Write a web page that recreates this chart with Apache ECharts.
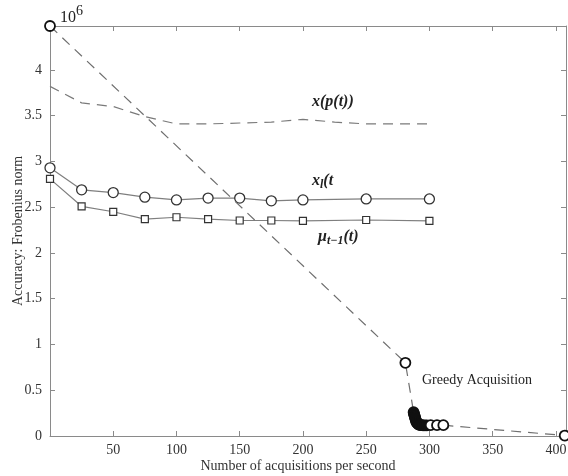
<!DOCTYPE html>
<html>
<head>
<meta charset="utf-8">
<script src="https://cdn.jsdelivr.net/npm/echarts@6/dist/echarts.min.js"></script>
<style>html,body{margin:0;padding:0;background:#fff}#c{width:568px;height:476px}</style>
</head>
<body>
<div id="c"></div>
<script>
// x(p(t)) dashed series
const xpX = [0, 25, 50, 75, 100, 125, 150, 175, 200, 225, 250, 275, 300];
const xpY = [3.82, 3.64, 3.60, 3.49, 3.41, 3.41, 3.42, 3.43, 3.46, 3.43, 3.41, 3.41, 3.41];
// x_l(t) circles
const xlX = [0, 25, 50, 75, 100, 125, 150, 175, 200, 250, 300];
const xlY = [2.93, 2.69, 2.66, 2.61, 2.58, 2.60, 2.60, 2.57, 2.58, 2.59, 2.59];
// mu_{t-1}(t) squares
const muX = [0, 25, 50, 75, 100, 125, 150, 175, 200, 250, 300];
const muY = [2.81, 2.51, 2.45, 2.37, 2.39, 2.37, 2.355, 2.355, 2.35, 2.36, 2.35];
// Greedy acquisition
const grX = [0, 281, 287.5, 287.8, 288.1, 288.4, 288.7, 289, 289.3, 289.6, 290, 290.4, 290.9, 291.5, 292.2, 293, 294, 295, 296.5, 298, 301, 306, 311, 407];
const grY = [4.48, 0.80, 0.26, 0.245, 0.23, 0.215, 0.20, 0.185, 0.17, 0.16, 0.15, 0.14, 0.132, 0.126, 0.122, 0.12, 0.118, 0.117, 0.117, 0.117, 0.118, 0.118, 0.118, 0.005];
const xTicks = [50, 100, 150, 200, 250, 300, 350, 400];
const yTicks = [0, 0.5, 1, 1.5, 2, 2.5, 3, 3.5, 4];

const zip = (a, b) => a.map((v, i) => [v, b[i]]);
const serif = '"Liberation Serif", "DejaVu Serif", serif';
const axisCol = '#8a8a8a';

// cluster points (dense region) drawn filled
const grData = zip(grX, grY).map((p, i) => {
  const dense = p[0] > 287 && p[0] < 299;
  return dense ? { value: p, itemStyle: { color: '#111', borderColor: '#111' } } : p;
});

const chart = echarts.init(document.getElementById('c'));
chart.setOption({
  animation: false,
  backgroundColor: '#fff',
  grid: { left: 50, right: 2, top: 26, bottom: 40, containLabel: false, outerBoundsMode: 'none' },
  xAxis: [{
    type: 'value', min: 0, max: 408, interval: 50,
    axisLine: { show: true, onZero: false, lineStyle: { color: axisCol, width: 1 } },
    axisTick: { show: true, inside: true, length: 5, lineStyle: { color: axisCol } },
    splitLine: { show: false },
    axisLabel: {
      color: '#333', fontFamily: serif, fontSize: 14, margin: 7,
      formatter: v => xTicks.includes(v) ? String(v) : ''
    },
    name: 'Number of acquisitions per second', nameLocation: 'middle', nameGap: 23,
    nameMoveOverlap: false,
    nameTextStyle: { color: '#333', fontFamily: serif, fontSize: 14, padding: [0, 20, 0, 0] }
  }, {
    type: 'value', min: 0, max: 408, interval: 50, position: 'top',
    axisLine: { show: true, onZero: false, lineStyle: { color: axisCol, width: 1 } },
    axisTick: { show: true, inside: true, length: 5, lineStyle: { color: axisCol } },
    splitLine: { show: false }, axisLabel: { show: false }
  }],
  yAxis: [{
    type: 'value', min: 0, max: 4.48, interval: 0.5,
    axisLine: { show: true, onZero: false, lineStyle: { color: axisCol, width: 1 } },
    axisTick: { show: true, inside: true, length: 5, lineStyle: { color: axisCol } },
    splitLine: { show: false },
    axisLabel: {
      color: '#333', fontFamily: serif, fontSize: 14, margin: 8,
      formatter: v => yTicks.includes(v) ? String(v) : ''
    },
    name: 'Accuracy: Frobenius norm', nameLocation: 'middle', nameGap: 25,
    nameMoveOverlap: false,
    nameTextStyle: { color: '#333', fontFamily: serif, fontSize: 14 }
  }, {
    type: 'value', min: 0, max: 4.48, interval: 0.5, position: 'right',
    axisLine: { show: true, onZero: false, lineStyle: { color: axisCol, width: 1 } },
    axisTick: { show: true, inside: true, length: 5, lineStyle: { color: axisCol } },
    splitLine: { show: false }, axisLabel: { show: false }
  }],
  series: [
    {
      type: 'line', data: zip(xpX, xpY), showSymbol: false, symbol: 'none',
      lineStyle: { color: '#7a7a7a', width: 1.2, type: [10, 7] }
    },
    {
      type: 'line', data: zip(xlX, xlY), symbol: 'circle', symbolSize: 10,
      lineStyle: { color: '#7f7f7f', width: 1.2 },
      itemStyle: { color: '#fff', borderColor: '#333', borderWidth: 1.3 }
    },
    {
      type: 'line', data: zip(muX, muY), symbol: 'rect', symbolSize: 7,
      lineStyle: { color: '#7f7f7f', width: 1.2 },
      itemStyle: { color: '#fff', borderColor: '#333', borderWidth: 1.2 }
    },
    {
      type: 'line', data: grData, symbol: 'circle', symbolSize: 10,
      lineStyle: { color: '#6f6f6f', width: 1.2, type: [10, 7] },
      itemStyle: { color: '#fff', borderColor: '#111', borderWidth: 1.8 },
      z: 5
    }
  ],
  graphic: [
    { type: 'text', left: 60, top: 4, style: {
      rich: { a: { fontFamily: serif, fontSize: 16, fill: '#222', padding: [8, 0, 0, 0] },
              b: { fontFamily: serif, fontSize: 14, fill: '#222', padding: [0, 0, 6, 0] } },
      text: '{a|10}{b|6}' } },
    { type: 'text', left: 312, top: 94, style: {
      text: 'x(p(t))', font: 'italic bold 16px ' + serif, fill: '#222' } },
    { type: 'text', left: 312, top: 173, style: {
      rich: { a: { font: 'italic bold 16px ' + serif, fill: '#222' },
              s: { font: 'italic bold 12px ' + serif, fill: '#222', padding: [8, 0, 0, 0] } },
      text: '{a|x}{s|l}{a|(t}' } },
    { type: 'text', left: 318, top: 229, style: {
      rich: { a: { font: 'italic bold 16px ' + serif, fill: '#222' },
              s: { font: 'italic bold 12px ' + serif, fill: '#222', padding: [8, 0, 0, 0] } },
      text: '{a|μ}{s|t−1}{a|(t)}' } },
    { type: 'text', left: 422, top: 373, style: {
      text: 'Greedy Acquisition', font: '14px ' + serif, fill: '#222' } }
  ]
});
</script>
</body>
</html>
